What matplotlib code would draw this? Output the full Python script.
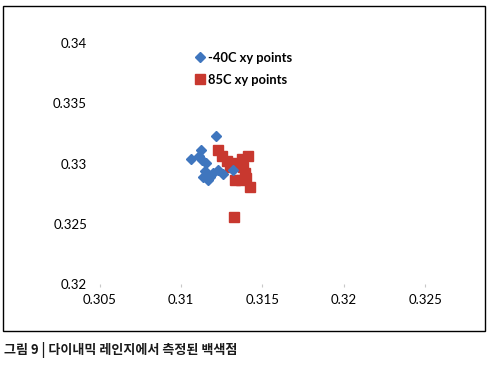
import matplotlib
matplotlib.use("Agg")
import matplotlib.pyplot as plt
from matplotlib.patches import Rectangle

# Data
cold_x = [0.31215, 0.31123, 0.31061, 0.31110, 0.31129, 0.31153, 0.31160, 0.31135,
          0.31178, 0.31196, 0.31227, 0.31258, 0.31319, 0.31166, 0.31147]
cold_y = [0.33232, 0.33108, 0.33041, 0.33066, 0.33025, 0.33008, 0.32909, 0.32884,
          0.32892, 0.32925, 0.32950, 0.32917, 0.32942, 0.32859, 0.32934]
hot_x = [0.31227, 0.31252, 0.31282, 0.31313, 0.31374, 0.31411, 0.31380, 0.31393,
         0.31331, 0.31368, 0.31399, 0.31423, 0.31325, 0.31301]
hot_y = [0.33108, 0.33066, 0.33017, 0.33008, 0.33041, 0.33066, 0.32967, 0.32925,
         0.32859, 0.32859, 0.32876, 0.32801, 0.32560, 0.32975]
series_labels = ["-40C xy points", "85C xy points"]
x_ticks = [0.305, 0.31, 0.315, 0.32, 0.325]
x_ticklabels = ["0.305", "0.31", "0.315", "0.32", "0.325"]
y_ticks = [0.32, 0.325, 0.33, 0.335, 0.34]
y_ticklabels = ["0.32", "0.325", "0.33", "0.335", "0.34"]
caption = "그림 9 | 다이내믹 레인지에서 측정된 백색점"

W, H = 499, 374
fig = plt.figure(figsize=(W / 100, H / 100), dpi=100)
fig.patch.set_facecolor("white")

ax = fig.add_axes([99.5 / W, 1 - 284 / H, (466 - 99.5) / W, 241 / H])
ax.set_xlim(0.305, 0.3275)
ax.set_ylim(0.32, 0.34)

blue = "#3F76BE"
red = "#C8382F"
ax.plot(cold_x, cold_y, linestyle="none", marker="D", markersize=5.0,
        color=blue, label=series_labels[0], zorder=3)
ax.plot(hot_x, hot_y, linestyle="none", marker="s", markersize=6.8,
        color=red, label=series_labels[1], zorder=2)

for s in ax.spines.values():
    s.set_visible(False)

tick_font = {"family": ["Lato", "DejaVu Sans"], "size": 9.5}
ax.set_xticks(x_ticks)
ax.set_xticklabels(x_ticklabels, **tick_font)
ax.set_yticks(y_ticks)
ax.set_yticklabels(y_ticklabels, **tick_font)
ax.tick_params(axis="x", length=2.5, width=0.8, color="#c8c8c8", pad=4.5,
               labelcolor="black")
ax.tick_params(axis="y", length=0, pad=9, labelcolor="black")

leg = ax.legend(loc="upper left", bbox_to_anchor=(194 / W, 1 - 52 / H),
                bbox_transform=fig.transFigure, frameon=False,
                prop={"family": ["Lato", "DejaVu Sans"], "size": 9.3, "weight": "bold"},
                handletextpad=0.15, handlelength=0.9, labelspacing=0.75,
                borderpad=0, borderaxespad=0)

# outer frame
fig.add_artist(Rectangle((3 / W, 1 - 331 / H), 482 / W, 325 / H,
                         transform=fig.transFigure, fill=False,
                         edgecolor="black", linewidth=1.0))

fig.text(4 / W, 1 - 350 / H, caption, ha="left", va="center",
         family=["Noto Sans CJK KR", "DejaVu Sans"], fontsize=9.4, weight="bold",
         color="#1a1a1a")

fig.savefig("out.png", dpi=100, facecolor="white")
